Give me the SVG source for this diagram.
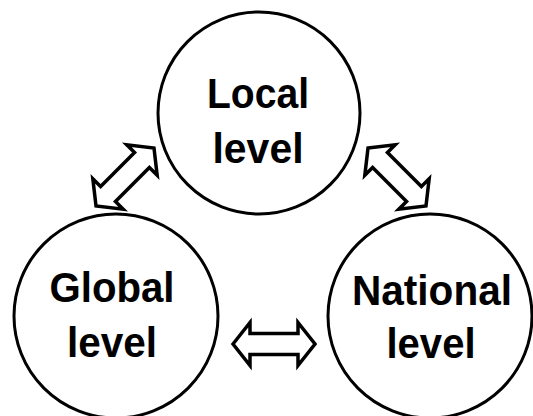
<svg xmlns="http://www.w3.org/2000/svg" width="533" height="416" viewBox="0 0 533 416">
<style>
.c{fill:#fff;stroke:#000;stroke-width:3}
.t{font-family:"Liberation Sans",Arial,sans-serif;font-weight:bold;font-size:43px;text-anchor:middle;fill:#000}
.a{fill:#fff;stroke:#000;stroke-width:3.5;stroke-linejoin:miter}
</style>
<defs>
<path id="arr" class="a" d="M-41,0 L-24,-21.5 L-24,-10.5 L24,-10.5 L24,-21.5 L41,0 L24,21.5 L24,10.5 L-24,10.5 L-24,21.5 Z"/>
</defs>
<rect width="533" height="416" fill="#fff"/>
<g id="connectors">
<use href="#arr" transform="translate(125,177) rotate(-45)"/>
<use href="#arr" transform="translate(397,177) rotate(45)"/>
<use href="#arr" transform="translate(274,344)"/>
</g>
<g id="local">
<circle class="c" cx="259" cy="113" r="101"/>
<text class="t" x="258" y="108" textLength="102" lengthAdjust="spacingAndGlyphs">Local</text>
<text class="t" x="258" y="163" textLength="91" lengthAdjust="spacingAndGlyphs">level</text>
</g>
<g id="global">
<circle class="c" cx="116" cy="316" r="102"/>
<text class="t" x="112" y="302" textLength="125" lengthAdjust="spacingAndGlyphs">Global</text>
<text class="t" x="112" y="357" textLength="90" lengthAdjust="spacingAndGlyphs">level</text>
</g>
<g id="national">
<circle class="c" cx="430" cy="316" r="102"/>
<text class="t" x="432" y="305" textLength="160" lengthAdjust="spacingAndGlyphs">National</text>
<text class="t" x="431" y="358" textLength="89" lengthAdjust="spacingAndGlyphs">level</text>
</g>
</svg>
